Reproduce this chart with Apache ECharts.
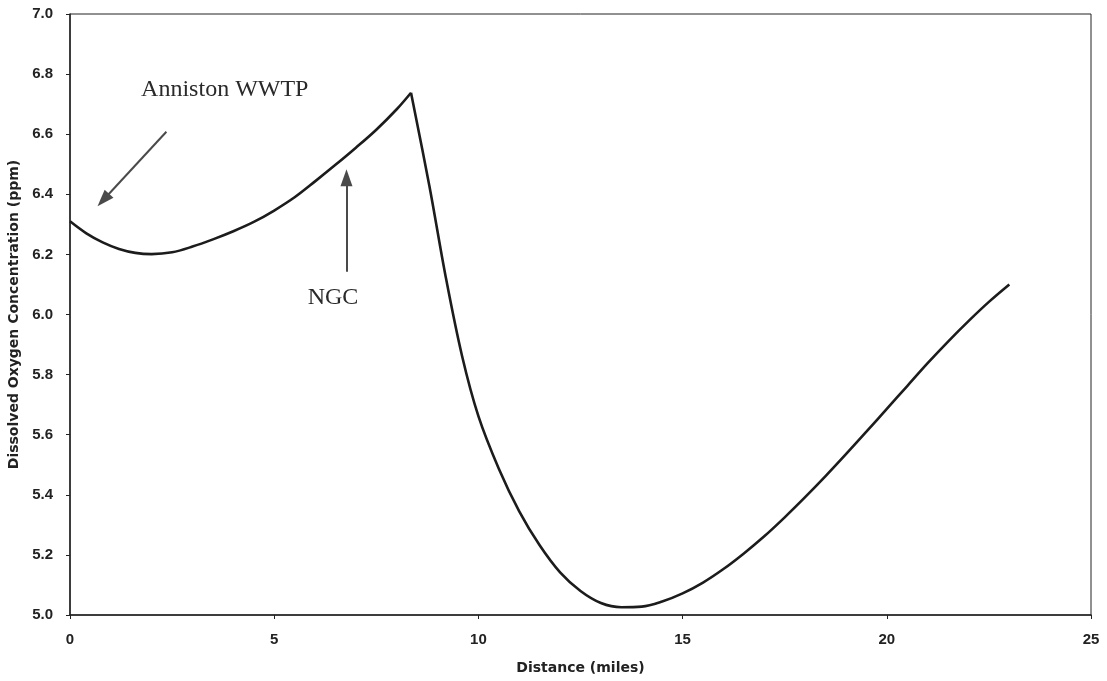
<!DOCTYPE html>
<html>
<head>
<meta charset="utf-8">
<title>Dissolved oxygen</title>
<script src="https://cdn.jsdelivr.net/npm/echarts@6/dist/echarts.min.js"></script>
<style>
    html,body{margin:0;padding:0;background:#fff;}
    #chart{width:1107px;height:681px;}
</style>
</head>
<body>
<div id="chart"></div>
<script>
// distance (miles) and DO (ppm)
// upstream of the peak (WWTP -> NGC), peak point shared with the sag below
var distanceUp = [0, 0.4, 0.8, 1.2, 1.6, 2.0, 2.5, 3.0, 3.5, 4.0, 4.5, 5.0, 5.5, 6.0, 6.5, 7.0, 7.5, 8.0, 8.35];
var oxygenUp = [6.31, 6.27, 6.24, 6.218, 6.205, 6.201, 6.207, 6.226, 6.25, 6.277, 6.308, 6.346, 6.39, 6.443, 6.498, 6.555, 6.615, 6.683, 6.738];
// sag curve downstream
var distanceDown = [8.35, 8.8, 9.2, 9.6, 10.0, 10.5, 11.0, 11.5, 12.0, 12.5, 13.0, 13.5, 14.0, 14.5, 15.0, 15.5, 16.0,
    16.5, 17.0, 17.5, 18.0, 18.5, 19.0, 19.5, 20.0, 20.5, 21.0, 21.5, 22.0, 22.5, 23.0];
var oxygenDown = [6.738, 6.428, 6.125, 5.862, 5.662, 5.487, 5.345, 5.232, 5.142, 5.08, 5.04, 5.026, 5.028, 5.045, 5.072, 5.108, 5.153,
    5.205, 5.262, 5.325, 5.392, 5.462, 5.535, 5.61, 5.686, 5.762, 5.838, 5.91, 5.978, 6.042, 6.1];
var yTicks = ['5.0', '5.2', '5.4', '5.6', '5.8', '6.0', '6.2', '6.4', '6.6', '6.8', '7.0'];

// annotation arrows (data units)
var wwtpArrow = [[2.36, 6.608], [0.815, 6.381]];
var ngcArrow = [[6.77, 6.142], [6.77, 6.455]];

var chart = echarts.init(document.getElementById('chart'), null, {renderer: 'canvas'});

function zip(xs, ys) {
    var out = [];
    for (var i = 0; i < xs.length; i++) out.push([xs[i], ys[i]]);
    return out;
}

var tickFont = 'Liberation Sans, Arial, sans-serif';
var nameFont = 'DejaVu Sans, sans-serif';
var curveStyle = {color: '#1c1c1c', width: 2.6};

var option = {
    animation: false,
    backgroundColor: '#fff',
    grid: {left: 70, right: 16, top: 14, bottom: 66, show: true, borderColor: '#222', borderWidth: 1,
        containLabel: false, outerBoundsMode: 'none'},
    xAxis: {
        type: 'value', min: 0, max: 25, interval: 5,
        name: 'Distance (miles)', nameLocation: 'middle', nameGap: 46,
        nameTextStyle: {color: '#222', fontFamily: nameFont, fontWeight: 'bold', fontSize: 14},
        axisLine: {show: true, lineStyle: {color: '#222', width: 1.5}},
        axisTick: {show: true, length: 4, lineStyle: {color: '#222'}},
        axisLabel: {margin: 17, color: '#222', fontFamily: tickFont, fontWeight: 'bold', fontSize: 15},
        splitLine: {show: false}
    },
    yAxis: {
        type: 'value', min: 5, max: 7, interval: 0.2,
        name: 'Dissolved Oxygen Concentration (ppm)', nameLocation: 'middle', nameGap: 41,
        nameTextStyle: {color: '#222', fontFamily: nameFont, fontWeight: 'bold', fontSize: 14},
        axisLine: {show: true, lineStyle: {color: '#222', width: 1.5}},
        axisTick: {show: true, length: 4, lineStyle: {color: '#222'}},
        axisLabel: {
            margin: 17, color: '#222', fontFamily: tickFont, fontWeight: 'bold', fontSize: 15,
            formatter: function(v){ return yTicks[Math.round((v - 5) / 0.2)]; }
        },
        splitLine: {show: false}
    },
    series: [{
        type: 'line',
        data: zip(distanceUp, oxygenUp),
        smooth: 0.35,
        showSymbol: false,
        lineStyle: curveStyle,
        markLine: {
            silent: true,
            symbol: ['none', 'triangle'],
            symbolSize: [12, 17],
            lineStyle: {color: '#4a4a4a', width: 2, type: 'solid'},
            label: {show: false},
            data: [
                [{coord: wwtpArrow[0]}, {coord: wwtpArrow[1]}],
                [{coord: ngcArrow[0]}, {coord: ngcArrow[1]}]
            ]
        },
        markPoint: {
            silent: true,
            symbol: 'circle', symbolSize: 0,
            label: {show: true, color: '#2a2a2a', fontFamily: 'Liberation Serif, Times New Roman, serif', fontSize: 24, position: 'inside'},
            data: [
                {coord: [3.79, 6.747], label: {formatter: 'Anniston WWTP'}},
                {coord: [6.44, 6.055], label: {formatter: 'NGC'}}
            ]
        }
    }, {
        type: 'line',
        data: zip(distanceDown, oxygenDown),
        smooth: 0.35,
        showSymbol: false,
        lineStyle: curveStyle
    }]
};
chart.setOption(option);
</script>
</body>
</html>
